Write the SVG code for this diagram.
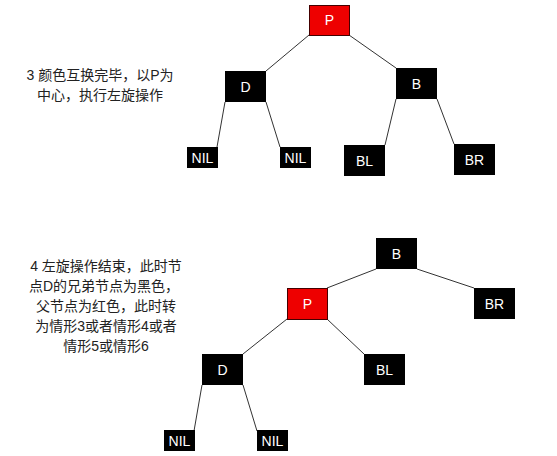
<svg xmlns="http://www.w3.org/2000/svg" width="557" height="456" viewBox="0 0 557 456">
<style>
.blk{fill:#000}
.red{fill:#ee0000;stroke:#400;stroke-width:1}
.lbl{font-family:"Liberation Sans",Arial,sans-serif;font-size:14px;fill:#fff;text-anchor:middle}
.nil{font-family:"Liberation Sans",Arial,sans-serif;font-size:14px;fill:#fff;text-anchor:middle}
.cap{font-family:"Liberation Sans","Noto Sans CJK SC",sans-serif;font-size:14px;fill:#222;text-anchor:middle}
.edge{stroke:#333;stroke-width:1;fill:none}
</style>
<rect width="557" height="456" fill="#fff"/>
<g id="connectors">
<line class="edge" x1="309" y1="35" x2="266" y2="71"/>
<line class="edge" x1="349" y1="35" x2="396" y2="68"/>
<line class="edge" x1="225" y1="102" x2="217" y2="147"/>
<line class="edge" x1="266" y1="102" x2="280" y2="147"/>
<line class="edge" x1="396" y1="99" x2="385" y2="145"/>
<line class="edge" x1="437" y1="99" x2="454" y2="144"/>
<line class="edge" x1="376" y1="269" x2="327" y2="288"/>
<line class="edge" x1="417" y1="269" x2="474" y2="288"/>
<line class="edge" x1="287" y1="319" x2="243" y2="354"/>
<line class="edge" x1="327" y1="319" x2="364" y2="354"/>
<line class="edge" x1="202" y1="385" x2="194" y2="431"/>
<line class="edge" x1="243" y1="385" x2="257" y2="431"/>
</g>
<g id="caption1">
<text class="cap" x="100" y="80">3 颜色互换完毕，以P为</text>
<text class="cap" x="100" y="100">中心，执行左旋操作</text>
</g>
<g id="caption2">
<text class="cap" x="106" y="271">4 左旋操作结束，此时节</text>
<text class="cap" x="104" y="291">点D的兄弟节点为黑色，</text>
<text class="cap" x="106" y="311">父节点为红色，此时转</text>
<text class="cap" x="106" y="331">为情形3或者情形4或者</text>
<text class="cap" x="106" y="351">情形5或情形6</text>
</g>
<g id="t1-P"><rect class="red" x="309.5" y="5.5" width="40" height="30"/><text class="lbl" x="329.5" y="25">P</text></g>
<g id="t1-D"><rect class="blk" x="225" y="71" width="41" height="31"/><text class="lbl" x="245.5" y="92">D</text></g>
<g id="t1-B"><rect class="blk" x="396" y="68" width="41" height="31"/><text class="lbl" x="416.5" y="89">B</text></g>
<g id="t1-NIL1"><rect class="blk" x="187" y="147" width="31" height="21"/><text class="nil" x="202.5" y="163">NIL</text></g>
<g id="t1-NIL2"><rect class="blk" x="280" y="147" width="31" height="21"/><text class="nil" x="295.5" y="163">NIL</text></g>
<g id="t1-BL"><rect class="blk" x="344" y="145" width="41" height="31"/><text class="lbl" x="364.5" y="166">BL</text></g>
<g id="t1-BR"><rect class="blk" x="454" y="144" width="41" height="31"/><text class="lbl" x="474.5" y="165">BR</text></g>
<g id="t2-B"><rect class="blk" x="376" y="238" width="41" height="31"/><text class="lbl" x="396.5" y="259">B</text></g>
<g id="t2-P"><rect class="red" x="287.5" y="288.5" width="40" height="31"/><text class="lbl" x="307.5" y="309">P</text></g>
<g id="t2-BR"><rect class="blk" x="474" y="288" width="41" height="31"/><text class="lbl" x="494.5" y="309">BR</text></g>
<g id="t2-D"><rect class="blk" x="202" y="354" width="41" height="31"/><text class="lbl" x="222.5" y="375">D</text></g>
<g id="t2-BL"><rect class="blk" x="364" y="354" width="41" height="31"/><text class="lbl" x="384.5" y="375">BL</text></g>
<g id="t2-NIL1"><rect class="blk" x="164" y="430" width="31" height="21"/><text class="nil" x="179.5" y="446">NIL</text></g>
<g id="t2-NIL2"><rect class="blk" x="257" y="430" width="31" height="21"/><text class="nil" x="272.5" y="446">NIL</text></g>
</svg>
